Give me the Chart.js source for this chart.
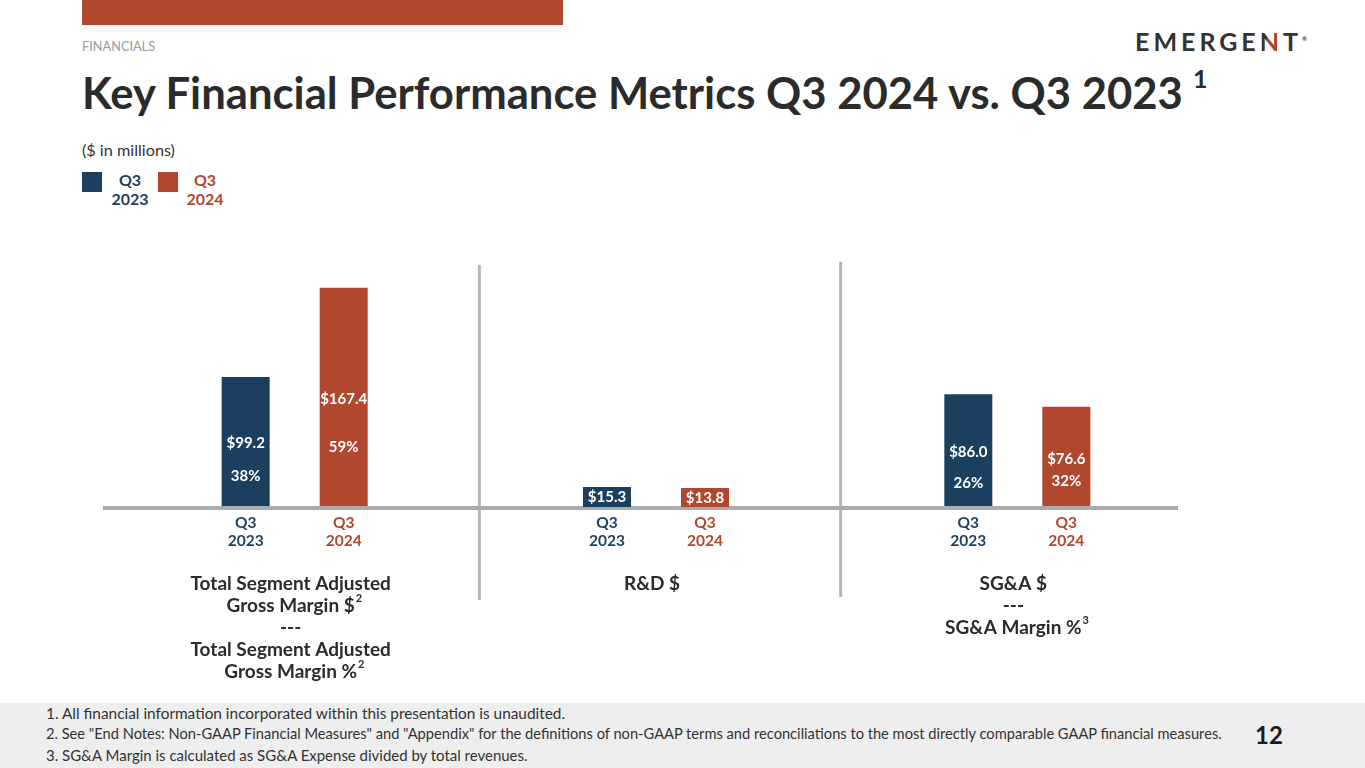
<!DOCTYPE html>
<html>
<head>
<meta charset="utf-8">
<script src="https://cdn.jsdelivr.net/npm/chart.js@4.4.1/dist/chart.umd.min.js"></script>
<style>
  html, body { margin:0; padding:0; background:#fff; }
  body { width:1365px; height:768px; position:relative; overflow:hidden; font-family: Lato, "Noto Sans", sans-serif; }
  .abs { position:absolute; white-space:nowrap; }
  #topbar { left:82px; top:0; width:481px; height:25px; background:#b0472f; }
  #kicker { left:82px; top:37px; height:18px; line-height:18px; font-size:13px; color:#9a9a9a; }
  #title { left:82px; top:66px; height:52px; line-height:52px; font-size:42px; font-weight:700; color:#2b2b2b; }
  #sup1 { left:1193px; top:64px; height:28px; line-height:28px; font-size:25px; font-weight:700; color:#2b2b2b; }
  #units { left:82px; top:140px; height:20px; line-height:20px; font-size:16px; color:#333; }
  .sw { width:20px; height:20px; top:172px; }
  .leg { top:170px; width:60px; text-align:center; font-weight:700; font-size:16px; line-height:19px; }
  #footer { left:0; top:703px; width:1365px; height:65px; background:#eeeeee; }
  .fn { left:46px; height:20px; line-height:20px; font-size:14px; color:#333; }
  #page { left:1255px; top:720px; height:30px; line-height:30px; font-size:24px; font-weight:700; color:#1a1a1a; }
  #logo { left:1135px; top:27px; height:28px; line-height:28px; font-size:25px; font-weight:700; color:#333; letter-spacing:4px; }
  #logo .n { background:linear-gradient(90deg,#333 0 30%, #b0472f 30% 72%, #333 72% 100%); -webkit-background-clip:text; background-clip:text; color:transparent; }
  #logo .r { font-size:6px; vertical-align:top; letter-spacing:0; position:relative; top:-2px; }
  canvas { position:absolute; left:0; top:0; }
</style>
</head>
<body>
<div id="topbar" class="abs"></div>
<div id="kicker" class="abs" data-w="73">FINANCIALS</div>
<div id="title" class="abs" data-w="1101">Key Financial Performance Metrics Q3 2024 vs. Q3 2023</div>
<div id="sup1" class="abs">1</div>
<div id="logo" class="abs">EMERGE<span class="n">N</span>T<span class="r">®</span></div>
<div id="units" class="abs" data-w="93">($ in millions)</div>
<div class="abs sw" style="left:82px;background:#1b3f5f"></div>
<div class="abs leg" style="left:100px;color:#1b3f5f">Q3<br>2023</div>
<div class="abs sw" style="left:158px;background:#b0472f"></div>
<div class="abs leg" style="left:175px;color:#b0472f">Q3<br>2024</div>
<div id="footer" class="abs"></div>
<div class="abs fn" style="top:703px" data-w="519">1. All financial information incorporated within this presentation is unaudited.</div>
<div class="abs fn" style="top:724px" data-w="1176">2. See "End Notes: Non-GAAP Financial Measures" and "Appendix" for the definitions of non-GAAP terms and reconciliations to the most directly comparable GAAP financial measures.</div>
<div class="abs fn" style="top:745px" data-w="481">3. SG&amp;A Margin is calculated as SG&amp;A Expense divided by total revenues.</div>
<div id="page" class="abs">12</div>
<canvas id="c" width="1365" height="768"></canvas>
<script>
// ---- data ----
const categories = ['Total Segment Adjusted Gross Margin', 'R&D', 'SG&A'];
const seriesNames = ['Q3 2023', 'Q3 2024'];
const q3_2023 = [99.2, 15.3, 86.0];
const q3_2024 = [167.4, 13.8, 76.6];
const margin2023 = ['38%', null, '26%'];
const margin2024 = ['59%', null, '32%'];
const barTickLines = [['Q3', '2023'], ['Q3', '2024']];
const groupTitles = [
  [['Total Segment Adjusted', ''], ['Gross Margin $', '2'], ['---', ''], ['Total Segment Adjusted', ''], ['Gross Margin %', '2']],
  [['R&D $', '']],
  [['SG&A $', ''], ['---', ''], ['SG&A Margin %', '3']]
];

// ---- styling ----
const BLUE = '#1b3f5f', RED = '#b0472f', DARK = '#2b2b2b';
// label centers, in pixels above baseline
const valueOffsets = [[64, 10, 55], [108, 9, 48]];
const marginOffsets = [[31, 0, 24], [60, 0, 26]];

// fit HTML texts to reference widths
document.querySelectorAll('[data-w]').forEach(el => {
  const target = +el.dataset.w;
  let fs = parseFloat(getComputedStyle(el).fontSize);
  for (let i = 0; i < 4; i++) {
    const w = el.getBoundingClientRect().width;
    fs = fs * target / w;
    el.style.fontSize = fs.toFixed(2) + 'px';
  }
});

const decor = {
  id: 'decor',
  beforeDatasetsDraw(chart) {
    const ctx = chart.ctx, xs = chart.scales.x;
    ctx.save();
    ctx.strokeStyle = '#b5b5b5';
    ctx.lineWidth = 3;
    const d1 = (xs.getPixelForValue(0) + xs.getPixelForValue(1)) / 2;
    const d2 = (xs.getPixelForValue(1) + xs.getPixelForValue(2)) / 2;
    ctx.beginPath();
    ctx.moveTo(d1 + 4, 265); ctx.lineTo(d1 + 4, 600);
    ctx.moveTo(d2 + 4, 262); ctx.lineTo(d2 + 4, 597);
    ctx.stroke();
    ctx.restore();
  },
  afterDatasetsDraw(chart) {
    const ctx = chart.ctx, ys = chart.scales.y;
    const base = ys.getPixelForValue(0);
    ctx.save();
    // baseline
    ctx.strokeStyle = '#ababab';
    ctx.lineWidth = 4;
    ctx.beginPath(); ctx.moveTo(103, base + 1); ctx.lineTo(1178, base + 1); ctx.stroke();
    ctx.textAlign = 'center';
    ctx.textBaseline = 'middle';
    const values = [q3_2023, q3_2024];
    const margins = [margin2023, margin2024];
    const colors = [BLUE, RED];
    chart.data.datasets.forEach((ds, di) => {
      const meta = chart.getDatasetMeta(di);
      meta.data.forEach((bar, i) => {
        const x = bar.x;
        const v = values[di][i];
        if (i === 1) {
          ctx.fillStyle = colors[di];
          ctx.fillRect(x - 24, base - 19, 48, 19);
        }
        ctx.fillStyle = '#ffffff';
        ctx.font = '700 15px Lato, "Noto Sans", sans-serif';
        ctx.fillText('$' + v.toFixed(1), x, base - valueOffsets[di][i]);
        if (margins[di][i]) ctx.fillText(margins[di][i], x, base - marginOffsets[di][i]);
        ctx.fillStyle = colors[di];
        ctx.font = '700 15.5px Lato, "Noto Sans", sans-serif';
        ctx.fillText(barTickLines[di][0], x, base + 16);
        ctx.fillText(barTickLines[di][1], x, base + 34);
      });
    });
    // group titles
    const m0 = chart.getDatasetMeta(0), m1 = chart.getDatasetMeta(1);
    groupTitles.forEach((lines, gi) => {
      const cx = (m0.data[gi].x + m1.data[gi].x) / 2 - 4;
      lines.forEach((ln, li) => {
        const y = 584 + li * 22;
        ctx.fillStyle = DARK;
        ctx.font = '700 19px Lato, "Noto Sans", sans-serif';
        ctx.textAlign = 'center';
        ctx.fillText(ln[0], cx, y);
        if (ln[1]) {
          const w = ctx.measureText(ln[0]).width;
          ctx.font = '700 11px Lato, "Noto Sans", sans-serif';
          ctx.textAlign = 'left';
          ctx.fillText(ln[1], cx + w / 2 + 1, y - 8);
        }
      });
    });
    ctx.restore();
  }
};

new Chart(document.getElementById('c'), {
  type: 'bar',
  data: {
    labels: categories,
    datasets: [
      { label: seriesNames[0], data: q3_2023, backgroundColor: BLUE },
      { label: seriesNames[1], data: q3_2024, backgroundColor: RED }
    ]
  },
  options: {
    responsive: false,
    animation: false,
    devicePixelRatio: 1,
    layout: { padding: { left: 114, right: 167, top: 245, bottom: 261 } },
    datasets: { bar: { categoryPercentage: 0.5425, barPercentage: 0.49 } },
    scales: {
      x: { display: false },
      y: { display: false, min: 0, max: 200 }
    },
    plugins: { legend: { display: false }, tooltip: { enabled: false } }
  },
  plugins: [decor]
});
</script>
</body>
</html>
